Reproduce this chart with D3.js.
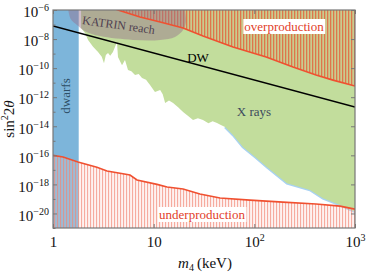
<!DOCTYPE html>
<html>
<head>
<meta charset="utf-8">
<script src="https://cdn.jsdelivr.net/npm/d3@7"></script>
<style>
  body { margin: 0; background: #fff; }
  svg, svg text, svg tspan { font-family: "Liberation Serif", "Times New Roman", "DejaVu Serif", serif !important; }
</style>
</head>
<body>
<div id="chart"></div>
<script>
// data: [m4 (keV), sin^2 2theta]
var xTicks = [1, 10, 100, 1000];
var yTicks = [1e-6, 1e-8, 1e-10, 1e-12, 1e-14, 1e-16, 1e-18, 1e-20];
var yMinor = [1e-7, 1e-9, 1e-11, 1e-13, 1e-15, 1e-17, 1e-19, 1e-21];

var xrayBound = [
  [1.90, 5.8e-8], [2.08, 2.6e-8], [2.23, 8.7e-9], [2.50, 3.0e-9], [2.80, 1.3e-9],
  [3.05, 6.0e-10], [3.21, 2.2e-10], [3.35, 8.0e-10], [3.52, 1.1e-9], [3.70, 7.0e-10],
  [3.94, 1.3e-9], [4.32, 6.3e-9], [4.42, 5.9e-10], [4.85, 1.6e-10], [5.19, 3.6e-10],
  [5.56, 7.4e-11], [6.0, 6.0e-11], [6.53, 3.4e-11], [7.1, 4.0e-11], [7.66, 2.1e-11],
  [8.4, 1.6e-11], [9.20, 6.9e-12], [10.3, 2.3e-12], [11.6, 3.1e-12], [12.3, 1.6e-12],
  [13.0, 4.0e-13], [14.2, 6.0e-13], [15.6, 4.0e-13], [17.5, 2.0e-13], [19.6, 9.5e-14],
  [22.0, 5.0e-14], [24.6, 2.7e-14], [27.5, 3.5e-14], [30.9, 2.7e-14], [35.0, 1.6e-14],
  [38.5, 2.2e-14], [42.6, 1.7e-14], [46.5, 1.2e-14], [51.2, 8.9e-15]
];
var xraySmooth = [
  [51.2, 8.9e-15], [61.4, 2.5e-15], [77.1, 3.7e-16], [102, 7.6e-17], [134, 1.5e-17],
  [211, 1.2e-18], [357, 4.1e-19], [481, 1.1e-19], [710, 3.8e-20], [1000, 1.3e-20]
];
var overprod = [
  [3.68, 1.6e-6], [4.42, 1.0e-6], [7.31, 3.3e-7], [11.6, 1.5e-7], [19.6, 5.8e-8],
  [30.9, 1.6e-8], [61.4, 2.8e-9], [131, 5.9e-10], [242, 1.2e-10], [410, 3.4e-11],
  [604, 1.5e-11], [1000, 5.9e-12]
];
var underprod = [
  [1, 1.0e-16], [1.26, 7.6e-17], [1.77, 3.5e-17], [2.73, 1.5e-17], [3.44, 8.3e-18],
  [5.82, 4.4e-18], [6.83, 2.0e-18], [10.8, 1.0e-18], [13.6, 6.6e-19], [19.6, 4.8e-19],
  [28.8, 2.2e-19], [45.6, 1.15e-19], [90.6, 8.3e-20], [192, 6.0e-20], [410, 4.5e-20],
  [710, 3.2e-20], [1000, 2.0e-20]
];
var katrin = [
  [1.42, 1e-6], [1.50, 2.4e-7], [1.73, 9.3e-8], [2.08, 3.5e-8], [2.93, 1.6e-8],
  [6.23, 8.7e-9], [11.6, 8.7e-9], [16.3, 1.4e-8], [19.6, 4.2e-8], [20.9, 1.5e-7],
  [20.5, 1e-6]
];
var dwLine = [[1, 7.9e-8], [1000, 2.1e-13]];
var dwarfs = [1, 1.8];

var W = 366, H = 274;
var x = d3.scaleLog().domain([1, 1000]).range([53, 355]);
var y = d3.scaleLog().domain([1e-21, 1e-6]).range([228, 10]);
var yTop = 1e-6, yBot = 1e-21;
var FONT = "Liberation Serif, Times New Roman, DejaVu Serif, serif";

var svg = d3.select("#chart").append("svg")
    .attr("width", W)
    .attr("height", H)
    .attr("font-family", FONT);

var defs = svg.append("defs");
defs.append("clipPath").attr("id", "plot")
  .append("rect").attr("x", 53).attr("y", 10).attr("width", 302).attr("height", 218);

var pOver = defs.append("pattern").attr("id", "hOver")
    .attr("patternUnits", "userSpaceOnUse").attr("width", 3).attr("height", 10);
pOver.append("rect").attr("width", 3).attr("height", 10).attr("fill", "rgba(225,150,100,0.25)");
pOver.append("rect").attr("width", 1.3).attr("height", 10).attr("fill", "#e4603c").attr("opacity", 0.8);

var pUnder = defs.append("pattern").attr("id", "hUnder")
    .attr("patternUnits", "userSpaceOnUse").attr("width", 3).attr("height", 10);
pUnder.append("rect").attr("width", 3).attr("height", 10).attr("fill", "rgba(250,205,195,0.25)");
pUnder.append("rect").attr("width", 1.1).attr("height", 10).attr("fill", "#f28474").attr("opacity", 0.65);

var line = d3.line().x(function(d){ return x(d[0]); }).y(function(d){ return y(d[1]); });

var g = svg.append("g").attr("clip-path", "url(#plot)");

// light blue rim under the x-ray edge
g.append("path").attr("d", line(xraySmooth))
  .attr("fill", "none").attr("stroke", "#a8d2f2").attr("stroke-width", 2.6);

// x-ray excluded region
var green = [[xrayBound[0][0], yTop]].concat(xrayBound, xraySmooth.slice(1), [[1000, yTop]]);
g.append("path").attr("d", line(green) + "Z").attr("fill", "#c2dd9c");

// dwarfs band
g.append("rect")
  .attr("x", x(dwarfs[0])).attr("y", y(yTop))
  .attr("width", x(dwarfs[1]) - x(dwarfs[0])).attr("height", y(yBot) - y(yTop))
  .attr("fill", "#7db5da");

// under / over production hatches
var under = underprod.concat([[1000, yBot], [1, yBot]]);
g.append("path").attr("d", line(under) + "Z").attr("fill", "url(#hUnder)");
var over = overprod.concat([[1000, 1e-5], [3.68, 1e-5]]);
g.append("path").attr("d", line(over) + "Z").attr("fill", "url(#hOver)");

// KATRIN reach
g.append("path").attr("d", d3.line().curve(d3.curveCatmullRom)
    .x(function(d){ return x(d[0]); }).y(function(d){ return y(d[1]); })(katrin) + "Z")
  .attr("fill", "rgb(150,110,140)").attr("opacity", 0.45);

g.append("path").attr("d", line(overprod)).attr("fill", "none")
  .attr("stroke", "#f05030").attr("stroke-width", 1.6);
g.append("path").attr("d", line(underprod)).attr("fill", "none")
  .attr("stroke", "#f05030").attr("stroke-width", 1.6);

g.append("path").attr("d", line(dwLine)).attr("fill", "none")
  .attr("stroke", "#000").attr("stroke-width", 1.6);

// labels in plot
function boxed(tx, ty, str) {
  var t = g.append("text").attr("x", tx).attr("y", ty)
    .attr("text-anchor", "middle").attr("font-size", 13).attr("fill", "#e2402a").text(str);
  var b = t.node().getBBox();
  g.insert("rect", function(){ return t.node(); })
    .attr("x", b.x - 1).attr("y", b.y).attr("width", b.width + 2).attr("height", b.height)
    .attr("fill", "#fff");
}
boxed(284, 31, "overproduction");
boxed(202, 219, "underproduction");

g.append("text").attr("transform", "translate(118,29) rotate(8)")
  .attr("text-anchor", "middle").attr("font-size", 12).attr("fill", "#4e3e50")
  .text("KATRIN reach");
g.append("text").attr("x", 198).attr("y", 62).attr("text-anchor", "middle")
  .attr("font-size", 13).attr("fill", "#000").text("DW");
g.append("text").attr("x", 254).attr("y", 116).attr("text-anchor", "middle")
  .attr("font-size", 13).attr("fill", "#3c4a5c").text("X rays");
g.append("text").attr("transform", "translate(70,96) rotate(-90)")
  .attr("text-anchor", "middle").attr("font-size", 13).attr("fill", "#2e4e66").text("dwarfs");

// axes
function pow10(sel, d) {
  var e = Math.round(Math.log10(d));
  sel.text(null);
  if (e === 0) { sel.append("tspan").text("1"); return; }
  if (e === 1) { sel.append("tspan").text("10"); return; }
  sel.append("tspan").text("10");
  sel.append("tspan").attr("dy", -6).attr("font-size", 10).text(String(e).replace("-", "\u2212"));
}

var yAx = svg.append("g").attr("transform", "translate(53,0)")
  .call(d3.axisLeft(y).tickValues(yTicks).tickSizeInner(-4).tickSizeOuter(0).tickPadding(4));
yAx.selectAll(".tick text").attr("font-size", 15).attr("dy", "0.45em")
  .each(function(d){ pow10(d3.select(this), d); });
svg.append("g").attr("transform", "translate(53,0)")
  .call(d3.axisLeft(y).tickValues(yMinor).tickSizeInner(-2.5).tickSizeOuter(0).tickFormat(""));
svg.append("g").attr("transform", "translate(355,0)")
  .call(d3.axisRight(y).tickValues(yTicks).tickSizeInner(-4).tickSizeOuter(0).tickFormat(""));

var xAx = svg.append("g").attr("transform", "translate(0,228)")
  .call(d3.axisBottom(x).tickValues(xTicks).tickSizeInner(-4).tickSizeOuter(0).tickPadding(8));
xAx.selectAll(".tick text").attr("font-size", 15)
  .each(function(d){ pow10(d3.select(this), d); });
svg.append("g").attr("transform", "translate(0,10)")
  .call(d3.axisTop(x).tickValues(xTicks).tickSizeInner(-4).tickSizeOuter(0).tickFormat(""));

svg.selectAll("g").attr("font-family", FONT);
svg.selectAll(".domain").remove();
svg.selectAll(".tick line").attr("stroke", "#777");
svg.selectAll(".tick text").attr("fill", "#111");

svg.append("rect").attr("x", 53).attr("y", 10).attr("width", 302).attr("height", 218)
  .attr("fill", "none").attr("stroke", "#777").attr("stroke-width", 1.2);

// axis titles
var yl = svg.append("text").attr("transform", "translate(14,119) rotate(-90)")
  .attr("text-anchor", "middle").attr("font-size", 15).attr("fill", "#111");
yl.append("tspan").text("sin");
yl.append("tspan").attr("dy", -6).attr("font-size", 10).text("2");
yl.append("tspan").attr("dy", 6).text("2");
yl.append("tspan").attr("font-style", "italic").text("\u03b8");

var xl = svg.append("text").attr("x", 205).attr("y", 268)
  .attr("text-anchor", "middle").attr("font-size", 15).attr("fill", "#111");
xl.append("tspan").attr("font-style", "italic").text("m");
xl.append("tspan").attr("dy", 3).attr("font-size", 10).text("4");
xl.append("tspan").attr("dy", -3).text("\u2009(keV)");
</script>
</body>
</html>
